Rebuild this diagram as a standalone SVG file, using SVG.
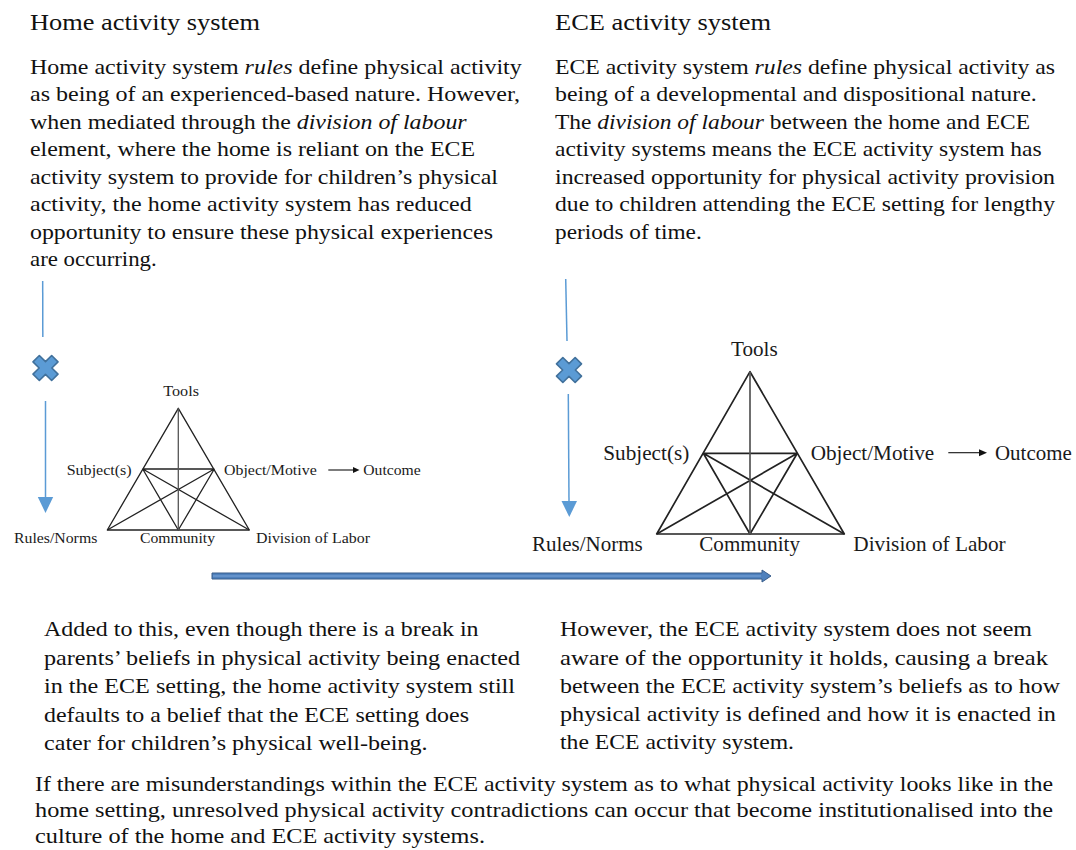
<svg xmlns="http://www.w3.org/2000/svg" xmlns:xlink="http://www.w3.org/1999/xlink" width="1076" height="850" viewBox="0 0 1076 850">
  <style>
    text { font-family: "Liberation Serif", "Times New Roman", serif; fill: #111; }
    .head { font-size: 23px; }
    .body { font-size: 21.5px; }
    .it { font-style: italic; }
    .lblS { font-size: 15.5px; fill: #1a1a1a; }
    .lblL { font-size: 21px; fill: #1a1a1a; }
    .tri { fill: none; stroke: #222; stroke-linejoin: round; }
    .triS { stroke-width: 1.3; }
    .triL { stroke-width: 1.7; }
    .axis { stroke: #555; }
    .flow { stroke: #5B9BD5; stroke-width: 1.5; fill: none; }
    .flowHead { fill: #5B9BD5; }
    .small { stroke: #111; stroke-width: 1.1; fill: none; }
    .smallHead { fill: #111; }
  </style>
  <defs>
    <!-- bold diagonal cross used to mark a broken link -->
    <path id="xmark" d="M-4.5,-13.2 L4.5,-13.2 L4.5,-4.5 L13.2,-4.5 L13.2,4.5 L4.5,4.5 L4.5,13.2 L-4.5,13.2 L-4.5,4.5 L-13.2,4.5 L-13.2,-4.5 L-4.5,-4.5 Z" transform="rotate(45)" fill="#5B9BD5" stroke="#41719C" stroke-width="1.6" stroke-linejoin="round"/>
  </defs>

  <rect width="1076" height="850" fill="#ffffff"/>

  <!-- Home activity system description -->
  <g id="home-text">
    <text class="head" x="30" y="29.5" textLength="230" lengthAdjust="spacingAndGlyphs">Home activity system</text>
    <text class="body" x="30" y="73.5" textLength="491.7" lengthAdjust="spacingAndGlyphs">Home activity system <tspan class="it">rules</tspan> define physical activity</text>
    <text class="body" x="30" y="101" textLength="490" lengthAdjust="spacingAndGlyphs">as being of an experienced-based nature. However,</text>
    <text class="body" x="30" y="128.5" textLength="436.7" lengthAdjust="spacingAndGlyphs">when mediated through the <tspan class="it">division of labour</tspan></text>
    <text class="body" x="30" y="156" textLength="445" lengthAdjust="spacingAndGlyphs">element, where the home is reliant on the ECE</text>
    <text class="body" x="30" y="183.5" textLength="468" lengthAdjust="spacingAndGlyphs">activity system to provide for children’s physical</text>
    <text class="body" x="30" y="211" textLength="441.7" lengthAdjust="spacingAndGlyphs">activity, the home activity system has reduced</text>
    <text class="body" x="30" y="238.5" textLength="463" lengthAdjust="spacingAndGlyphs">opportunity to ensure these physical experiences</text>
    <text class="body" x="30" y="266" textLength="126.7" lengthAdjust="spacingAndGlyphs">are occurring.</text>
  </g>

  <!-- ECE activity system description -->
  <g id="ece-text">
    <text class="head" x="555" y="29.5" textLength="216" lengthAdjust="spacingAndGlyphs">ECE activity system</text>
    <text class="body" x="555" y="73.5" textLength="500" lengthAdjust="spacingAndGlyphs">ECE activity system <tspan class="it">rules</tspan> define physical activity as</text>
    <text class="body" x="555" y="101" textLength="481.7" lengthAdjust="spacingAndGlyphs">being of a developmental and dispositional nature.</text>
    <text class="body" x="555" y="128.5" textLength="475" lengthAdjust="spacingAndGlyphs">The <tspan class="it">division of labour</tspan> between the home and ECE</text>
    <text class="body" x="555" y="156" textLength="486.7" lengthAdjust="spacingAndGlyphs">activity systems means the ECE activity system has</text>
    <text class="body" x="555" y="183.5" textLength="500" lengthAdjust="spacingAndGlyphs">increased opportunity for physical activity provision</text>
    <text class="body" x="555" y="211" textLength="500" lengthAdjust="spacingAndGlyphs">due to children attending the ECE setting for lengthy</text>
    <text class="body" x="555" y="238.5" textLength="146.7" lengthAdjust="spacingAndGlyphs">periods of time.</text>
  </g>

  <!-- Home activity triangle (small) -->
  <g id="home-triangle">
    <path class="tri triS" d="M178.3,408.3 L107.3,530 L249.3,530 Z"/>
    <path class="tri triS" d="M142.7,469 L214.3,469 M142.7,469 L178.3,530 M142.7,469 L249.3,530 M214.3,469 L107.3,530 M214.3,469 L178.3,530"/>
    <path class="tri triS axis" d="M178.3,408.3 L178.3,530"/>
  </g>
  <g id="home-tools"><text class="lblS" x="163.3" y="396" textLength="35.7" lengthAdjust="spacingAndGlyphs">Tools</text></g>
  <g id="home-subject"><text class="lblS" x="66.7" y="475" textLength="65" lengthAdjust="spacingAndGlyphs">Subject(s)</text></g>
  <g id="home-object"><text class="lblS" x="224" y="475" textLength="92.7" lengthAdjust="spacingAndGlyphs">Object/Motive</text></g>
  <g id="home-outcome"><text class="lblS" x="363.3" y="475" textLength="57.4" lengthAdjust="spacingAndGlyphs">Outcome</text></g>
  <g id="home-rules"><text class="lblS" x="14" y="543" textLength="83.3" lengthAdjust="spacingAndGlyphs">Rules/Norms</text></g>
  <g id="home-community"><text class="lblS" x="140" y="543" textLength="75" lengthAdjust="spacingAndGlyphs">Community</text></g>
  <g id="home-division"><text class="lblS" x="256" y="543" textLength="114" lengthAdjust="spacingAndGlyphs">Division of Labor</text></g>

  <!-- ECE activity triangle (large) -->
  <g id="ece-triangle">
    <path class="tri triL" d="M750,371.7 L656.7,534 L844.3,534 Z"/>
    <path class="tri triL" d="M703.3,453.3 L797.3,453.3 M703.3,453.3 L750,534 M703.3,453.3 L844.3,534 M797.3,453.3 L656.7,534 M797.3,453.3 L750,534"/>
    <path class="tri triL axis" d="M750,371.7 L750,534"/>
  </g>
  <g id="ece-tools"><text class="lblL" x="731" y="355.5" textLength="46.7" lengthAdjust="spacingAndGlyphs">Tools</text></g>
  <g id="ece-subject"><text class="lblL" x="603.3" y="460" textLength="86" lengthAdjust="spacingAndGlyphs">Subject(s)</text></g>
  <g id="ece-object"><text class="lblL" x="810.7" y="459.5" textLength="123.6" lengthAdjust="spacingAndGlyphs">Object/Motive</text></g>
  <g id="ece-outcome"><text class="lblL" x="995" y="459.5" textLength="76.7" lengthAdjust="spacingAndGlyphs">Outcome</text></g>
  <g id="ece-rules"><text class="lblL" x="532" y="551" textLength="110.7" lengthAdjust="spacingAndGlyphs">Rules/Norms</text></g>
  <g id="ece-community"><text class="lblL" x="699.3" y="551" textLength="100.7" lengthAdjust="spacingAndGlyphs">Community</text></g>
  <g id="ece-division"><text class="lblL" x="853.3" y="551" textLength="152.4" lengthAdjust="spacingAndGlyphs">Division of Labor</text></g>

  <!-- connectors -->
  <g id="connectors">
    <!-- home: broken link from description to triangle -->
    <line class="flow" x1="42.7" y1="281" x2="42.8" y2="337"/>
    <use xlink:href="#xmark" href="#xmark" x="45.5" y="368"/>
    <line class="flow" x1="45.5" y1="401" x2="45.5" y2="498"/>
    <path class="flowHead" d="M37.8,497 L53.2,497 L45.5,513 Z"/>

    <!-- ECE: broken link from description to triangle -->
    <line class="flow" x1="565.7" y1="279" x2="567" y2="341"/>
    <use xlink:href="#xmark" href="#xmark" x="569" y="370"/>
    <line class="flow" x1="568.3" y1="394" x2="569" y2="502"/>
    <path class="flowHead" d="M561.5,501 L577,501 L569.3,517 Z"/>

    <!-- object to outcome -->
    <line class="small" x1="328.3" y1="470" x2="354" y2="470"/>
    <path class="smallHead" d="M353,467 L359.5,470 L353,473 Z"/>
    <line class="small" x1="948.3" y1="452.7" x2="980" y2="452.7"/>
    <path class="smallHead" d="M979,449.2 L987,452.7 L979,456.2 Z"/>

    <!-- home to ECE block arrow -->
    <path d="M212,573 L762,573 L762,570 L771,576 L762,582 L762,579 L212,579 Z" fill="#4F81BD" stroke="#385D8A" stroke-width="1" stroke-linejoin="miter"/>
    <line x1="213" y1="576" x2="761" y2="576" stroke="#6D9AD0" stroke-width="1.5"/>
  </g>

  <!-- lower notes -->
  <g id="home-note">
    <text class="body" x="44" y="636" textLength="434.6" lengthAdjust="spacingAndGlyphs">Added to this, even though there is a break in</text>
    <text class="body" x="44" y="665" textLength="476" lengthAdjust="spacingAndGlyphs">parents’ beliefs in physical activity being enacted</text>
    <text class="body" x="44" y="693" textLength="471" lengthAdjust="spacingAndGlyphs">in the ECE setting, the home activity system still</text>
    <text class="body" x="44" y="721.5" textLength="425" lengthAdjust="spacingAndGlyphs">defaults to a belief that the ECE setting does</text>
    <text class="body" x="44" y="750" textLength="383.5" lengthAdjust="spacingAndGlyphs">cater for children’s physical well-being.</text>
  </g>
  <g id="ece-note">
    <text class="body" x="560" y="636" textLength="472" lengthAdjust="spacingAndGlyphs">However, the ECE activity system does not seem</text>
    <text class="body" x="560" y="665" textLength="488" lengthAdjust="spacingAndGlyphs">aware of the opportunity it holds, causing a break</text>
    <text class="body" x="560" y="693" textLength="500" lengthAdjust="spacingAndGlyphs">between the ECE activity system’s beliefs as to how</text>
    <text class="body" x="560" y="721" textLength="496" lengthAdjust="spacingAndGlyphs">physical activity is defined and how it is enacted in</text>
    <text class="body" x="560" y="749" textLength="234" lengthAdjust="spacingAndGlyphs">the ECE activity system.</text>
  </g>
  <g id="summary-note">
    <text class="body" x="35" y="790.5" textLength="1018" lengthAdjust="spacingAndGlyphs">If there are misunderstandings within the ECE activity system as to what physical activity looks like in the</text>
    <text class="body" x="35" y="817" textLength="1018" lengthAdjust="spacingAndGlyphs">home setting, unresolved physical activity contradictions can occur that become institutionalised into the</text>
    <text class="body" x="35" y="843" textLength="450" lengthAdjust="spacingAndGlyphs">culture of the home and ECE activity systems.</text>
  </g>
</svg>
